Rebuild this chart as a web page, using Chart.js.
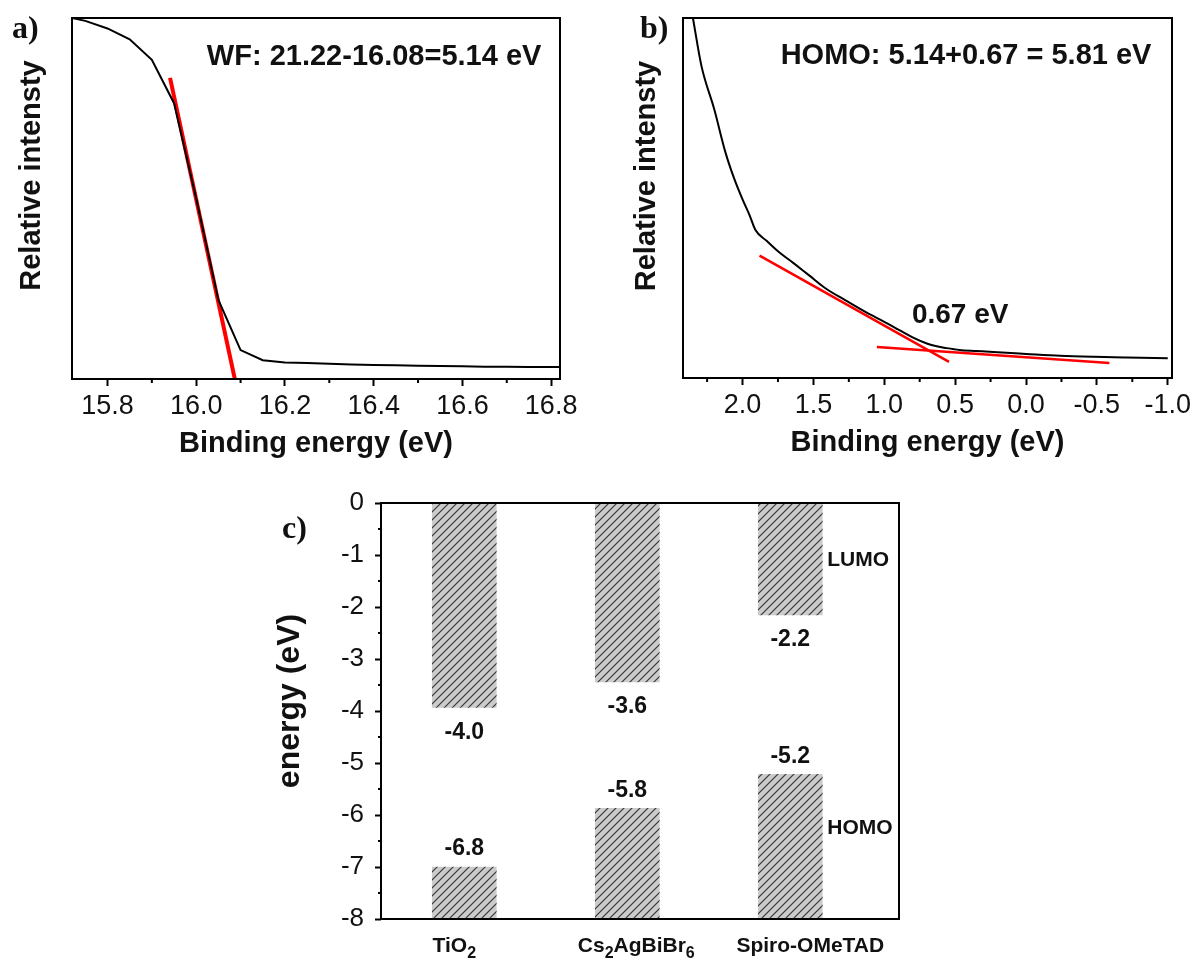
<!DOCTYPE html>
<html>
<head>
<meta charset="utf-8">
<script src="https://cdn.jsdelivr.net/npm/chart.js@4.4.1/dist/chart.umd.min.js"></script>
<style>
html,body{margin:0;padding:0;background:#fff;}
body{width:1196px;height:965px;position:relative;overflow:hidden;}
canvas{position:absolute;}
</style>
</head>
<body>
<canvas id="ca" width="600" height="470" style="left:0px;top:0px"></canvas>
<canvas id="cb" width="596" height="470" style="left:600px;top:0px"></canvas>
<canvas id="cc" width="700" height="495" style="left:250px;top:470px"></canvas>
<script>
// ---------- Panel a data ----------
const aEnergy    = [15.72, 15.75, 15.80, 15.85, 15.90, 15.95, 16.00, 16.05, 16.10, 16.15, 16.20, 16.25, 16.30, 16.35, 16.40, 16.45, 16.50, 16.55, 16.60, 16.65, 16.70, 16.75, 16.80, 16.82];
const aIntensity = [1.000, 0.992, 0.971, 0.941, 0.884, 0.764, 0.500, 0.219, 0.080, 0.052, 0.046, 0.044, 0.042, 0.040, 0.039, 0.038, 0.037, 0.036, 0.035, 0.034, 0.034, 0.033, 0.033, 0.033];
const aFitEnergy    = [15.941, 16.087];
const aFitIntensity = [0.834, 0.000];
const aTicks      = [15.8, 16.0, 16.2, 16.4, 16.6, 16.8];
const aMinorTicks = [15.9, 16.1, 16.3, 16.5, 16.7];

// ---------- Panel b data ----------
const bEnergy    = [2.35, 2.29, 2.20, 2.12, 2.06, 2.00, 1.95, 1.91, 1.83, 1.75, 1.64, 1.53, 1.41, 1.27, 1.13, 0.98, 0.89, 0.80, 0.70, 0.63, 0.56, 0.47, 0.35, 0.23, 0.00, -0.24, -0.48, -0.71, -1.00];
const bIntensity = [1.000, 0.867, 0.747, 0.626, 0.555, 0.496, 0.452, 0.412, 0.381, 0.352, 0.319, 0.285, 0.248, 0.215, 0.183, 0.152, 0.132, 0.113, 0.096, 0.088, 0.083, 0.078, 0.075, 0.072, 0.067, 0.062, 0.059, 0.057, 0.055];
const bFit1Energy    = [1.88, 0.543];
const bFit1Intensity = [0.340, 0.045];
const bFit2Energy    = [1.052, -0.588];
const bFit2Intensity = [0.086, 0.042];
const bTicks      = [2.0, 1.5, 1.0, 0.5, 0.0, -0.5, -1.0];
const bMinorTicks = [2.25, 1.75, 1.25, 0.75, 0.25, -0.25, -0.75];

// ---------- Panel c data ----------
const categories  = ['TiO2', 'Cs2AgBiBr6', 'Spiro-OMeTAD'];
const categoryParts = [
  [['TiO', false], ['2', true]],
  [['Cs', false], ['2', true], ['AgBiBr', false], ['6', true]],
  [['Spiro-OMeTAD', false]]
];
const lumoValues  = [-3.93, -3.44, -2.15];
const lumoLabels  = ['-4.0', '-3.6', '-2.2'];
const homoValues  = [-7.00, -5.87, -5.22];
const homoLabels  = ['-6.8', '-5.8', '-5.2'];
const cTicks      = [0, -1, -2, -3, -4, -5, -6, -7, -8];
const cMinorTicks = [-0.5, -1.5, -2.5, -3.5, -4.5, -5.5, -6.5, -7.5];

// ---------- common ----------
Chart.defaults.font.family = "'Liberation Sans', Arial, Helvetica, sans-serif";
const SANS = "'Liberation Sans', Arial, Helvetica, sans-serif";
const SERIF = "'Liberation Serif', 'Times New Roman', serif";
const INK = '#111';

const decor = {
  id: 'decor',
  afterDraw(chart, args, opts) {
    const ctx = chart.ctx, a = chart.chartArea;
    ctx.save();
    // minor ticks
    (opts.minor || []).forEach(m => {
      const sc = chart.scales[m.axis];
      ctx.strokeStyle = '#000';
      ctx.lineWidth = 2;
      m.values.forEach(v => {
        const p = sc.getPixelForValue(v);
        ctx.beginPath();
        if (m.axis === 'x') { ctx.moveTo(p, a.bottom); ctx.lineTo(p, a.bottom + m.len); }
        else { ctx.moveTo(a.left, p); ctx.lineTo(a.left - m.len, p); }
        ctx.stroke();
      });
    });
    // frame
    ctx.strokeStyle = '#000';
    ctx.lineWidth = opts.frameWidth || 2;
    ctx.strokeRect(a.left, a.top, a.width, a.height);
    // bar value labels
    (opts.barLabels || []).forEach(bl => {
      const xs = chart.scales.x, ys = chart.scales.y;
      ctx.font = bl.font; ctx.fillStyle = INK; ctx.textAlign = 'center'; ctx.textBaseline = 'middle';
      bl.values.forEach((v, i) => {
        ctx.fillText(bl.labels[i], xs.getPixelForValue(i + 1), ys.getPixelForValue(v) + bl.dy);
      });
    });
    // category labels with subscripts
    if (opts.catLabels) {
      const cl = opts.catLabels, xs = chart.scales.x;
      ctx.fillStyle = INK; ctx.textBaseline = 'alphabetic'; ctx.textAlign = 'left';
      cl.parts.forEach((parts, i) => {
        let w = 0;
        parts.forEach(([t, sub]) => { ctx.font = sub ? cl.subFont : cl.font; w += ctx.measureText(t).width; });
        let x = xs.getPixelForValue(i + 1) + cl.dx[i] - w / 2;
        const y = a.bottom + cl.dy;
        parts.forEach(([t, sub]) => {
          ctx.font = sub ? cl.subFont : cl.font;
          ctx.fillText(t, x, y + (sub ? cl.subDy : 0));
          x += ctx.measureText(t).width;
        });
      });
    }
    // free texts
    (opts.texts || []).forEach(t => {
      let x, y;
      if (t.mode === 'canvas') { x = t.px; y = t.py; }
      else if (t.mode === 'area') { x = a.left + t.dx; y = (a.top + a.bottom) / 2 + t.dy; }
      else { x = chart.scales.x.getPixelForValue(t.x) + (t.dx || 0); y = chart.scales.y.getPixelForValue(t.y) + (t.dy || 0); }
      ctx.save();
      ctx.translate(x, y);
      if (t.rotate) ctx.rotate(t.rotate * Math.PI / 180);
      ctx.font = t.font; ctx.fillStyle = INK;
      ctx.textAlign = t.align || 'left';
      ctx.textBaseline = t.baseline || 'middle';
      ctx.fillText(t.text, 0, 0);
      ctx.restore();
    });
    ctx.restore();
  }
};

const pts = (xs, ys) => xs.map((x, i) => ({ x: x, y: ys[i] }));

function energyAxis(min, max, ticks, reverse, height, titlePad) {
  return {
    type: 'linear', min: min, max: max, reverse: reverse,
    afterFit: s => { s.height = height; },
    afterBuildTicks: s => { s.ticks = ticks.map(v => ({ value: v })); },
    ticks: { callback: v => Number(v).toFixed(1), color: INK, font: { size: 27 }, padding: 4, maxRotation: 0, autoSkip: false },
    grid: { drawOnChartArea: false, drawTicks: true, tickLength: 7, tickWidth: 2, tickColor: '#000' },
    border: { display: false },
    title: { display: true, text: 'Binding energy (eV)', color: INK, font: { size: 29, weight: 'bold' }, padding: { top: 0, bottom: titlePad } }
  };
}

// ---------- Panel a ----------
new Chart(document.getElementById('ca'), {
  type: 'line',
  data: { datasets: [
    { data: pts(aEnergy, aIntensity), borderColor: '#000', borderWidth: 2, pointRadius: 0, tension: 0 },
    { data: pts(aFitEnergy, aFitIntensity), borderColor: '#ff0000', borderWidth: 4, pointRadius: 0, tension: 0 }
  ]},
  options: {
    responsive: false, animation: false, devicePixelRatio: 1,
    layout: { padding: { left: 72, top: 18, right: 40, bottom: 0 } },
    plugins: {
      legend: { display: false }, tooltip: { enabled: false },
      decor: {
        minor: [{ axis: 'x', values: aMinorTicks, len: 4 }],
        texts: [
          { mode: 'canvas', text: 'a)', px: 12, py: 38, font: 'bold 32px ' + SERIF, baseline: 'alphabetic' },
          { mode: 'area', text: 'Relative intensty', dx: -40, dy: -23, rotate: -90, align: 'center', font: 'bold 29px ' + SANS },
          { text: 'WF: 21.22-16.08=5.14 eV', x: 16.778, y: 0.892, align: 'right', font: 'bold 29px ' + SANS }
        ]
      }
    },
    scales: {
      x: energyAxis(15.72, 16.82, aTicks, false, 91, 9),
      y: { type: 'linear', min: 0, max: 1, display: false }
    }
  },
  plugins: [decor]
});

// ---------- Panel b ----------
new Chart(document.getElementById('cb'), {
  type: 'line',
  data: { datasets: [
    { data: pts(bEnergy, bIntensity), borderColor: '#000', borderWidth: 2, pointRadius: 0, cubicInterpolationMode: 'monotone' },
    { data: pts(bFit1Energy, bFit1Intensity), borderColor: '#ff0000', borderWidth: 2.5, pointRadius: 0, tension: 0 },
    { data: pts(bFit2Energy, bFit2Intensity), borderColor: '#ff0000', borderWidth: 2.5, pointRadius: 0, tension: 0 }
  ]},
  options: {
    responsive: false, animation: false, devicePixelRatio: 1,
    layout: { padding: { left: 83, top: 18, right: 24, bottom: 0 } },
    plugins: {
      legend: { display: false }, tooltip: { enabled: false },
      decor: {
        minor: [{ axis: 'x', values: bMinorTicks, len: 4 }],
        texts: [
          { mode: 'canvas', text: 'b)', px: 40, py: 38, font: 'bold 32px ' + SERIF, baseline: 'alphabetic' },
          { mode: 'area', text: 'Relative intensty', dx: -36, dy: -22, rotate: -90, align: 'center', font: 'bold 29px ' + SANS },
          { text: 'HOMO: 5.14+0.67 = 5.81 eV', x: 1.731, y: 0.894, align: 'left', font: 'bold 29px ' + SANS },
          { text: '0.67 eV', x: 0.805, y: 0.175, align: 'left', font: 'bold 28px ' + SANS }
        ]
      }
    },
    scales: {
      x: energyAxis(-1.03, 2.42, bTicks, true, 92, 10),
      y: { type: 'linear', min: 0, max: 1, display: false }
    }
  },
  plugins: [decor]
});

// ---------- Panel c ----------
const ccEl = document.getElementById('cc');
function hatchPattern(ctx) {
  const s = 8;
  const tile = document.createElement('canvas');
  tile.width = s; tile.height = s;
  const g = tile.getContext('2d');
  g.fillStyle = '#cbcbcb';
  g.fillRect(0, 0, s, s);
  g.strokeStyle = '#333';
  g.lineWidth = 1.1;
  g.beginPath();
  g.moveTo(0, s); g.lineTo(s, 0);
  g.moveTo(-2, 2); g.lineTo(2, -2);
  g.moveTo(s - 2, s + 2); g.lineTo(s + 2, s - 2);
  g.stroke();
  return ctx.createPattern(tile, 'repeat');
}
const hatch = hatchPattern(ccEl.getContext('2d'));
const yMin = cTicks[cTicks.length - 1];

new Chart(ccEl, {
  type: 'bar',
  data: { datasets: [
    { label: 'LUMO', data: categories.map((c, i) => ({ x: i + 1, y: [0, lumoValues[i]] })), backgroundColor: hatch, borderWidth: 0, barThickness: 64, grouped: false },
    { label: 'HOMO', data: categories.map((c, i) => ({ x: i + 1, y: [yMin, homoValues[i]] })), backgroundColor: hatch, borderWidth: 0, barThickness: 64, grouped: false }
  ]},
  options: {
    responsive: false, animation: false, devicePixelRatio: 1,
    layout: { padding: { left: 0, top: 33, right: 51, bottom: 46 } },
    plugins: {
      legend: { display: false }, tooltip: { enabled: false },
      decor: {
        minor: [{ axis: 'y', values: cMinorTicks, len: 3 }],
        barLabels: [
          { values: lumoValues, labels: lumoLabels, dy: 25, font: 'bold 23px ' + SANS },
          { values: homoValues, labels: homoLabels, dy: -18, font: 'bold 23px ' + SANS }
        ],
        catLabels: { parts: categoryParts, dx: [-10, 9, 20], dy: 33, subDy: 6, font: 'bold 21px ' + SANS, subFont: 'bold 16px ' + SANS },
        texts: [
          { mode: 'canvas', text: 'c)', px: 32, py: 68, font: 'bold 32px ' + SERIF, baseline: 'alphabetic' },
          { mode: 'area', text: 'energy (eV)', dx: -91, dy: -10, rotate: -90, align: 'center', font: 'bold 32px ' + SANS },
          { text: 'LUMO', x: 3, y: -1.1, dx: 37, align: 'left', font: 'bold 21px ' + SANS },
          { text: 'HOMO', x: 3, y: -6.25, dx: 37, align: 'left', font: 'bold 21px ' + SANS }
        ]
      }
    },
    scales: {
      x: { type: 'linear', min: 0.489, max: 3.667, offset: false, display: false, grid: { offset: false } },
      y: {
        type: 'linear', min: yMin, max: cTicks[0],
        afterFit: s => { s.width = 131; },
        afterBuildTicks: s => { s.ticks = cTicks.map(v => ({ value: v })); },
        ticks: { callback: v => String(v), color: INK, font: { size: 26 }, padding: 11, autoSkip: false },
        grid: { drawOnChartArea: false, drawTicks: true, tickLength: 6, tickWidth: 2, tickColor: '#000' },
        border: { display: false }
      }
    }
  },
  plugins: [decor]
});
</script>
</body>
</html>
